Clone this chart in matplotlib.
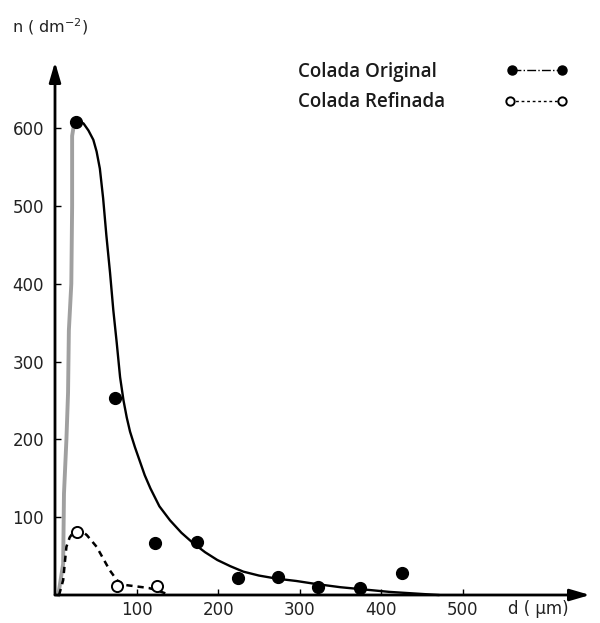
import matplotlib.pyplot as plt

# measured points, colada original (filled) and refinada (open)
d_orig = [26, 74, 123, 174, 225, 274, 323, 374, 426]
n_orig = [608, 253, 67, 68, 22, 23, 10, 9, 28]
d_ref = [27, 76, 125]
n_ref = [81, 11, 11]

# fitted curves
d_rise = [4, 10, 11, 14, 16, 17, 20, 21, 21, 23]
n_rise = [0, 40, 130, 200, 260, 340, 400, 500, 590, 603]
d_fit = [23, 27, 31, 35, 41, 47, 51, 55, 59, 63, 67.5, 71.5, 75.7, 79.8, 84,
         88, 92, 98, 104, 110, 117, 128, 141, 155, 169, 184, 199, 215, 231, 250,
         272, 296, 321, 350, 380, 410, 440, 470]
n_fit = [603, 607, 608, 606, 597, 585, 570, 548, 510, 462, 414, 366, 324, 280,
         250, 228, 210, 190, 172, 154, 137, 114, 96, 80, 67, 55, 45, 37, 30, 25,
         21, 18, 14, 10, 7, 4, 2, 0]
d_fit_ref = [5, 10, 12, 14, 18, 22, 27, 33, 39, 51, 59, 67, 76, 85, 100, 115,
             125, 141]
n_fit_ref = [0, 19, 41, 62, 74, 80, 84, 82, 77, 62, 47, 32, 19, 13, 11, 9, 6, 0]

xticks = [100, 200, 300, 400, 500]
yticks = [100, 200, 300, 400, 500, 600]
xmax, ymax = 656, 685

fig = plt.figure(figsize=(6, 6.23), dpi=100)
ax = fig.add_axes([55 / 600, 28 / 623, 535 / 600, 533 / 623])
ax.set_xlim(0, xmax)
ax.set_ylim(0, ymax)
for s in ax.spines.values():
    s.set_visible(False)

# axes with arrow heads
arrow = dict(arrowstyle='-|>,head_width=0.35,head_length=1.2',
             color='black', lw=2, shrinkA=0, shrinkB=0)
ax.annotate('', xy=(0, ymax), xytext=(0, 0), arrowprops=arrow)
ax.annotate('', xy=(xmax, 0), xytext=(0, 0), arrowprops=arrow)

ax.set_xticks(xticks)
ax.set_yticks(yticks)
ax.tick_params(direction='in', length=4, width=1, labelsize=12,
               labelcolor='#222222')
ax.tick_params(axis='x', pad=4)
ax.tick_params(axis='y', pad=8)

ax.plot(d_rise, n_rise, color='#a0a0a0', lw=2.8, clip_on=False)
ax.plot(d_fit, n_fit, color='black', lw=1.7, clip_on=False)
ax.plot(d_fit_ref, n_fit_ref, color='black', lw=1.8, ls=(0, (2.5, 2)), clip_on=False)
ax.plot(d_orig, n_orig, 'o', color='black', ms=8.5, clip_on=False)
ax.plot(d_ref, n_ref, 'o', mfc='white', mec='black', mew=1.4, ms=8, clip_on=False)

fig.text(12 / 600, 1 - 27 / 623, 'n ( dm$^{-2}$)', fontsize=11.5,
         color='#222222', va='center')
ax.text(593, -6, 'd ( µm)', fontsize=12, color='#222222', ha='center', va='top')

# legend
lg = dict(fontsize=13.5, fontfamily='Open Sans', fontweight='semibold',
          color='#1a1a1a', va='center')
fig.text(298 / 600, 1 - 72 / 623, 'Colada Original', **lg)
fig.text(298 / 600, 1 - 102 / 623, 'Colada Refinada', **lg)
fig.lines.append(plt.Line2D([512 / 600, 562 / 600], [1 - 70 / 623] * 2, color='black',
                            lw=1, ls='-.', marker='o', ms=6.5, transform=fig.transFigure))
fig.lines.append(plt.Line2D([510 / 600, 562 / 600], [1 - 101 / 623] * 2, color='black',
                            lw=1, ls=(0, (2, 2)), marker='o', mfc='white', ms=6,
                            mew=1.4, transform=fig.transFigure))

fig.savefig('out.png', dpi=100, facecolor='white')
